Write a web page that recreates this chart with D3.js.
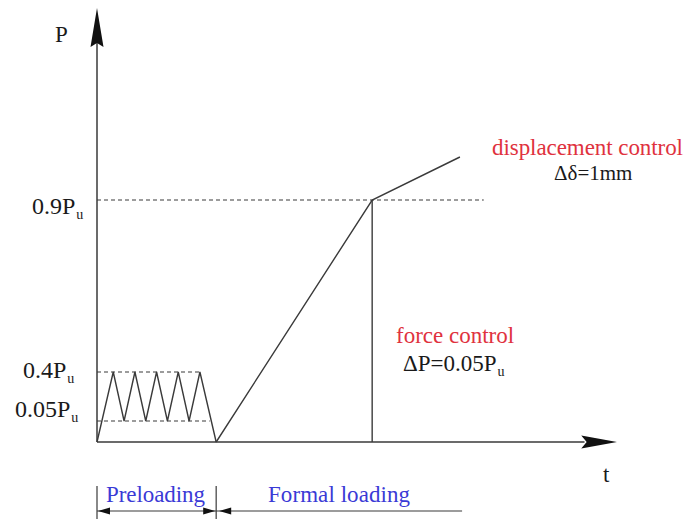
<!DOCTYPE html>
<html><head><meta charset="utf-8">
<script src="https://cdn.jsdelivr.net/npm/d3@7"></script>
<style>body{margin:0;background:#fff}svg{display:block}</style>
</head><body>
<script>
// ---- data ----
const pLevels = [0, 0.05, 0.4, 0.9];           // load levels (fraction of Pu)
const pLabels = ["", "0.05P", "0.4P", "0.9P"];
const preT = [0, 1.5, 2.5, 3.5, 4.5, 5.5, 6.5, 7.5, 8.5, 9.5, 11];
const preP = [0, 0.4, 0.05, 0.4, 0.05, 0.4, 0.05, 0.4, 0.05, 0.4, 0];
const formalT = [11, 25.4, 33.5];
const formalP = [0, 0.9, 1.025];
const refLineEnd = {"0.05P": 10.4, "0.4P": 9.5, "0.9P": 35.7};
const phaseBounds = [0, 11, 33.7];
const phaseNames = ["Preloading", "Formal loading"];

const W = 688, H = 519;
const svg = d3.select("body").append("svg").attr("width", W).attr("height", H)
  .attr("font-family", "Liberation Serif");
const x = d3.scaleLinear().domain([0, 48]).range([97, 617]);
const y = d3.scaleLinear().domain(pLevels).range([442, 421, 372, 200]);
const ink = "#3a3a3a";

// dashed reference lines
pLevels.slice(1).forEach((p, i) => {
  svg.append("line").attr("x1", x(0)).attr("x2", x(refLineEnd[pLabels[i + 1]]))
    .attr("y1", y(p)).attr("y2", y(p))
    .attr("stroke", ink).attr("stroke-width", 1.2).attr("stroke-dasharray", "4,3");
});

// axes
svg.append("line").attr("x1", x(0)).attr("x2", x(0)).attr("y1", y(0)).attr("y2", 30)
  .attr("stroke", ink).attr("stroke-width", 1.5);
svg.append("line").attr("x1", x(0)).attr("x2", x(45)).attr("y1", y(0)).attr("y2", y(0))
  .attr("stroke", ink).attr("stroke-width", 1.5);
// arrowheads
svg.append("path").attr("d", `M${x(0)},8 L${x(0)+6.5},47 L${x(0)},43 L${x(0)-6.5},47 Z`).attr("fill", "#111");
svg.append("path").attr("d", `M${x(48)},${y(0)} L${x(44.7)},${y(0)-6.5} L${x(45.2)},${y(0)} L${x(44.7)},${y(0)+6.5} Z`).attr("fill", "#111");

// load path
const line = d3.line().x(d => x(d[0])).y(d => y(d[1]));
svg.append("path").datum(preT.map((t, i) => [t, preP[i]])).attr("d", line)
  .attr("fill", "none").attr("stroke", ink).attr("stroke-width", 1.4);
svg.append("path").datum(formalT.map((t, i) => [t, formalP[i]])).attr("d", line)
  .attr("fill", "none").attr("stroke", ink).attr("stroke-width", 1.4);
svg.append("line").attr("x1", x(formalT[1])).attr("x2", x(formalT[1]))
  .attr("y1", y(0)).attr("y2", y(formalP[1])).attr("stroke", ink).attr("stroke-width", 1.4);

function txt(s, xx, yy, size, fill) {
  return svg.append("text").attr("x", xx).attr("y", yy).attr("font-family", "Liberation Serif")
    .attr("font-size", size).attr("fill", fill || "#1a1a1a").text(s);
}
txt("P", 55, 42, 23);
txt("t", 603, 482, 23);

// y level labels
const labelX = {"0.05P": 15, "0.4P": 23, "0.9P": 32};
const labelDy = {"0.05P": -4, "0.4P": 6, "0.9P": 14};
pLevels.slice(1).forEach((p, i) => {
  const lab = pLabels[i + 1];
  const t = txt(lab, labelX[lab], y(p) + labelDy[lab], 24);
  t.append("tspan").attr("dx", 1).attr("dy", 5).attr("font-size", 14).text("u");
});

// annotations
const red = "#e0323e";
txt("displacement control", 492, 155, 23, red).attr("textLength", 191);
txt("\u0394\u03b4=1mm", 554, 180, 21);
txt("force control", 396, 343, 23, red);
const dp = txt("\u0394P=0.05P", 403, 371, 23);
dp.append("tspan").attr("dx", 1).attr("dy", 5).attr("font-size", 14).text("u");

// phase annotation
const blue = "#3a3ad6";
[phaseBounds[0], phaseBounds[1]].forEach(t => {
  svg.append("line").attr("x1", x(t)).attr("x2", x(t)).attr("y1", 486).attr("y2", 519)
    .attr("stroke", ink).attr("stroke-width", 1.2);
});
svg.append("line").attr("x1", x(phaseBounds[0])).attr("x2", x(phaseBounds[2]))
  .attr("y1", 511).attr("y2", 511).attr("stroke", ink).attr("stroke-width", 1.1);
function head(xt, dir) {
  svg.append("path").attr("d", `M${xt},511 L${xt + dir*12},507.5 L${xt + dir*12},514.5 Z`).attr("fill", "#111");
}
head(x(phaseBounds[0]) + 1, 1);
head(x(phaseBounds[1]) - 1, -1);
head(x(phaseBounds[1]) + 3, 1);
txt(phaseNames[0], 106, 502, 23, blue).attr("textLength", 99);
txt(phaseNames[1], 268, 502, 23, blue).attr("textLength", 142);
</script>
</body></html>
